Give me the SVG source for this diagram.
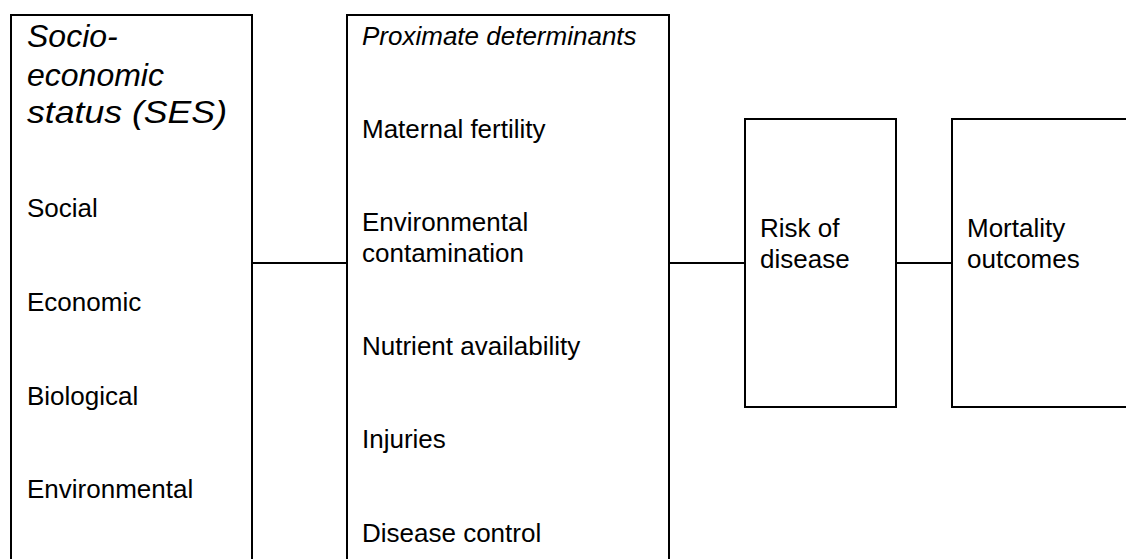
<svg xmlns="http://www.w3.org/2000/svg" width="1126" height="559" viewBox="0 0 1126 559">
<style>
.box{fill:#fff;stroke:#000;stroke-width:2}
.conn{stroke:#000;stroke-width:2;fill:none}
text{font-family:"Liberation Sans",Arial,sans-serif;fill:#000;font-size:26px}
.ttl{font-size:32px;font-style:italic}
.it{font-style:italic}
</style>
<rect width="1126" height="559" fill="#fff"/>
<g id="connectors">
<line class="conn" x1="252" y1="263" x2="347" y2="263"/>
<line class="conn" x1="669" y1="263" x2="745" y2="263"/>
<line class="conn" x1="896" y1="263" x2="952" y2="263"/>
</g>
<g id="ses">
<rect class="box" x="11" y="15" width="241" height="560"/>
<text class="ttl" x="27" y="47">Socio-</text>
<text class="ttl" x="27" y="86">economic</text>
<text class="ttl" x="27" y="123" textLength="200" lengthAdjust="spacingAndGlyphs">status (SES)</text>
<text x="27" y="217">Social</text>
<text x="27" y="311">Economic</text>
<text x="27" y="405">Biological</text>
<text x="27" y="498">Environmental</text>
</g>
<g id="proximate">
<rect class="box" x="347" y="15" width="322" height="560"/>
<text class="it" x="362" y="45">Proximate determinants</text>
<text x="362" y="138">Maternal fertility</text>
<text x="362" y="231">Environmental</text>
<text x="362" y="262">contamination</text>
<text x="362" y="355">Nutrient availability</text>
<text x="362" y="448">Injuries</text>
<text x="362" y="542">Disease control</text>
</g>
<g id="risk">
<rect class="box" x="745" y="119" width="151" height="288"/>
<text x="760" y="237">Risk of</text>
<text x="760" y="268">disease</text>
</g>
<g id="mortality">
<rect class="box" x="952" y="119" width="200" height="288"/>
<text x="967" y="237">Mortality</text>
<text x="967" y="268">outcomes</text>
</g>
</svg>
